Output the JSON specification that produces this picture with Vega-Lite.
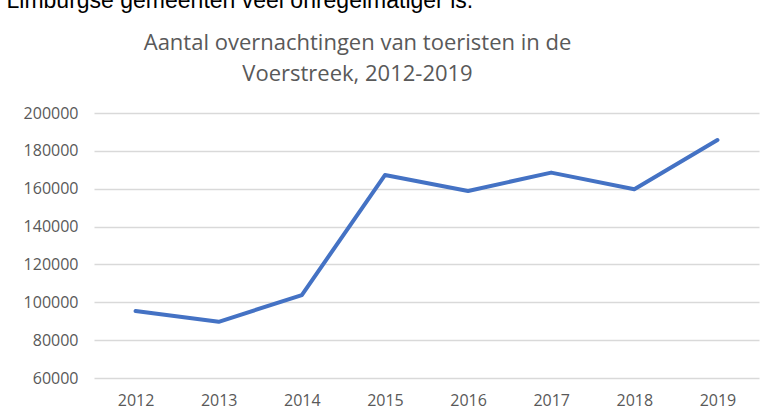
{
  "$schema": "https://vega.github.io/schema/vega-lite/v6.json",
  "autosize": "none",
  "width": 665,
  "height": 265,
  "padding": {"left": 94, "top": 113, "right": 12, "bottom": 37},
  "background": "white",
  "data": {
    "values": [
      {"jaar": "2012", "overnachtingen": 95400},
      {"jaar": "2013", "overnachtingen": 89700},
      {"jaar": "2014", "overnachtingen": 103800},
      {"jaar": "2015", "overnachtingen": 167200},
      {"jaar": "2016", "overnachtingen": 158800},
      {"jaar": "2017", "overnachtingen": 168500},
      {"jaar": "2018", "overnachtingen": 159700},
      {"jaar": "2019", "overnachtingen": 185700}
    ]
  },
  "mark": {"type": "line", "color": "#4472C4", "strokeWidth": 4, "strokeCap": "round", "strokeJoin": "round"},
  "encoding": {
    "x": {
      "field": "jaar",
      "type": "ordinal",
      "scale": {"type": "point", "padding": 0.5},
      "axis": {
        "labelAngle": 0,
        "domain": false,
        "ticks": false,
        "grid": false,
        "labelFont": "Open Sans",
        "labelFontSize": 16,
        "labelColor": "#595959",
        "labelPadding": 14,
        "title": ["Aantal overnachtingen van toeristen in de", "Voerstreek, 2012-2019"],
        "titleAngle": 0,
        "titleAlign": "center",
        "titleBaseline": "alphabetic",
        "titleX": 263,
        "titleY": -329,
        "titleFont": "Open Sans",
        "titleFontSize": 22,
        "titleFontWeight": "normal",
        "titleColor": "#595959",
        "titleLineHeight": 31
      }
    },
    "y": {
      "field": "overnachtingen",
      "type": "quantitative",
      "scale": {"domain": [60000, 200000], "nice": false, "zero": false},
      "axis": {
        "values": [60000, 80000, 100000, 120000, 140000, 160000, 180000, 200000],
        "format": "d",
        "domain": false,
        "ticks": false,
        "grid": true,
        "gridColor": "#d9d9d9",
        "gridWidth": 1.3,
        "labelFont": "Open Sans",
        "labelFontSize": 16,
        "labelColor": "#595959",
        "labelPadding": 16,
        "title": "Limburgse gemeenten veel onregelmatiger is.",
        "titleAngle": 0,
        "titleAlign": "left",
        "titleBaseline": "alphabetic",
        "titleX": -88,
        "titleY": -106,
        "titleFont": "Liberation Sans",
        "titleFontSize": 23,
        "titleFontWeight": "normal",
        "titleColor": "#000000"
      }
    }
  },
  "config": {"view": {"stroke": null}}
}
